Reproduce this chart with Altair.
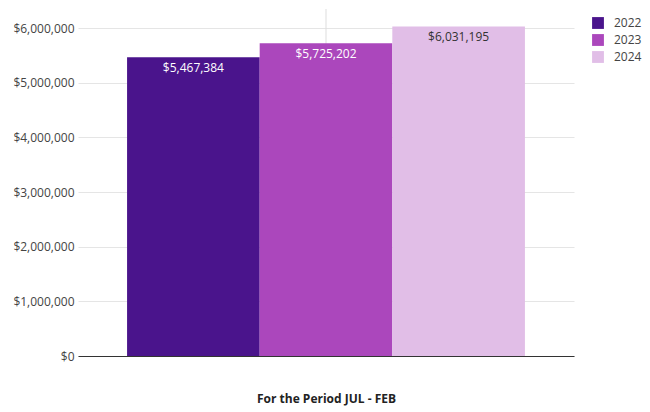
import altair as alt
import pandas as pd

years = ["2022", "2023", "2024"]
values = [5467384, 5725202, 6031195]
labels = ["$5,467,384", "$5,725,202", "$6,031,195"]
colors = ["#4a148c", "#ab47bc", "#e1bee7"]
y_ticks = [0, 1000000, 2000000, 3000000, 4000000, 5000000, 6000000]
y_max = 6350000
x_title = "For the Period JUL - FEB"

df = pd.DataFrame({"year": years, "value": values, "label": labels})

FONT = "Open Sans"

xscale = alt.Scale(domain=years, paddingInner=0, paddingOuter=0.37)
yscale = alt.Scale(domain=[0, y_max], nice=False)

base = alt.Chart(df)

vrule = alt.Chart(pd.DataFrame({"c": [years[1]], "top": [y_max], "bot": [0]})).mark_rule(
    color="#dddddd", strokeWidth=1
).encode(
    x=alt.X("c:N", scale=xscale),
    y=alt.Y("top:Q", scale=yscale),
    y2="bot:Q",
)

bars = base.mark_bar(stroke=None).encode(
    x=alt.X(
        "year:N",
        scale=xscale,
        sort=years,
        axis=alt.Axis(
            labels=False,
            ticks=False,
            grid=False,
            domainColor="#333333",
            title=x_title,
            titleFont=FONT,
            titleFontSize=12,
            titleFontWeight="bold",
            titleColor="#222222",
            titlePadding=37,
        ),
    ),
    y=alt.Y(
        "value:Q",
        scale=yscale,
        axis=alt.Axis(
            values=y_ticks,
            format="$,.0f",
            title=None,
            domain=False,
            ticks=False,
            labelPadding=4,
            labelFont=FONT,
            labelFontSize=12,
            labelColor="#444444",
            gridColor="#e5e5e5",
        ),
    ),
    color=alt.Color(
        "year:N",
        scale=alt.Scale(domain=years, range=colors),
        legend=alt.Legend(
            title=None,
            orient="none",
            legendX=514,
            legendY=8,
            symbolType="square",
            symbolSize=140,
            symbolStrokeWidth=0,
            labelFont=FONT,
            labelFontSize=12,
            labelColor="#444444",
            rowPadding=5,
            labelOffset=10,
        ),
    ),
)

text = base.mark_text(
    baseline="top", dy=6, font=FONT, fontSize=12
).encode(
    x=alt.X("year:N", scale=xscale),
    y=alt.Y("value:Q", scale=yscale),
    text="label:N",
    color=alt.condition(alt.datum.year == "2024", alt.value("#333333"), alt.value("#ffffff")),
)

chart = alt.layer(vrule, bars, text).properties(
    width=496,
    height=347,
    padding={"left": 4, "top": 0, "right": 0, "bottom": 4},
).configure_view(stroke=None).configure_axisY(domain=False)

chart.save("out.html", embed_options={"renderer": "svg", "actions": False})
